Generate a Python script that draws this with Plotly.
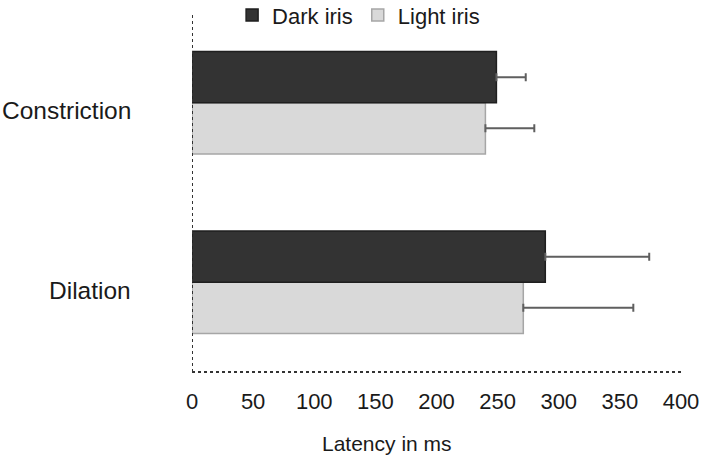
import plotly.graph_objects as go

categories = ["Constriction", "Dilation"]
dark_vals = [249, 289]
dark_err = [24, 85]
light_vals = [240, 271]
light_err = [40, 90]
x_ticks = [0, 50, 100, 150, 200, 250, 300, 350, 400]

font_family = "Liberation Sans, Arial, sans-serif"
txt = "#1a1a1a"

fig = go.Figure()
fig.add_trace(go.Bar(
    name="Light iris", y=categories, x=light_vals, orientation="h",
    marker=dict(color="#d9d9d9", line=dict(color="#a6a6a6", width=1.5)),
    error_x=dict(type="data", symmetric=False, array=light_err, arrayminus=[0, 0],
                 color="#5f5f5f", thickness=2, width=4),
))
fig.add_trace(go.Bar(
    name="Dark iris", y=categories, x=dark_vals, orientation="h",
    marker=dict(color="#333333", line=dict(color="#1f1f1f", width=1.5)),
    error_x=dict(type="data", symmetric=False, array=dark_err, arrayminus=[0, 0],
                 color="#5f5f5f", thickness=2, width=4),
))

fig.update_layout(
    width=702, height=458,
    margin=dict(l=192, r=21, t=13, b=86, autoexpand=False),
    plot_bgcolor="white", paper_bgcolor="white",
    barmode="group", bargap=0.43, bargroupgap=0,
    font=dict(family=font_family, color=txt, size=22),
    showlegend=True,
    legend=dict(orientation="h", traceorder="reversed", x=0.082, y=0.994,
                xanchor="left", yanchor="middle", font=dict(size=22),
                bgcolor="rgba(0,0,0,0)", itemwidth=30),
    xaxis=dict(range=[0, 400], tickvals=x_ticks, showgrid=False, zeroline=False,
               showline=False, ticks="", tickfont=dict(size=22), ticklabelstandoff=14,
               automargin=False),
    yaxis=dict(categoryorder="array", categoryarray=["Dilation", "Constriction"],
               range=[-0.5, 1.5], showgrid=False, zeroline=False, showline=False,
               ticks="", showticklabels=False, automargin=False),
)

for cat in categories:
    fig.add_annotation(text=cat, xref="paper", yref="y", x=0, y=cat, xshift=-59,
                       yshift=-8, xanchor="right", yanchor="middle", showarrow=False,
                       font=dict(size=24.5, color=txt))

fig.add_shape(type="line", xref="x", yref="paper", x0=0, x1=0, y0=0, y1=1,
              line=dict(color="#333333", width=2, dash="dot"))
fig.add_shape(type="line", xref="paper", yref="paper", x0=0, x1=1, y0=0, y1=0,
              line=dict(color="#333333", width=2, dash="dot"))

fig.add_annotation(text="Latency in ms", xref="paper", yref="paper",
                   x=(387 - 192) / 489, y=0, yshift=-71, xanchor="center",
                   yanchor="middle", showarrow=False, font=dict(size=21, color=txt))

fig.write_html("out.html", config={"displayModeBar": False},
               post_script="document.body.style.margin='0';document.body.style.padding='0';")
